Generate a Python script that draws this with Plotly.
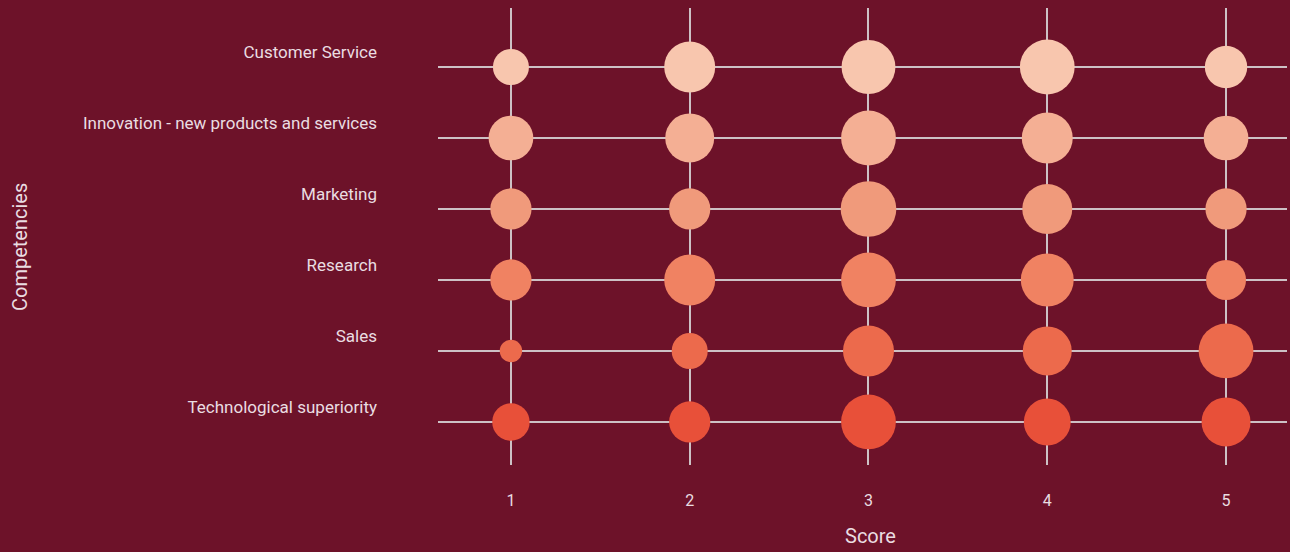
import plotly.graph_objects as go

# Competency ratings: number of responses per score (1-5)
competencies = [
    "Customer Service",
    "Innovation - new products and services",
    "Marketing",
    "Research",
    "Sales",
    "Technological superiority",
]
scores = [1, 2, 3, 4, 5]

customer_service = [13, 26, 29, 30, 18]
innovation = [20, 24, 30, 26, 20]
marketing = [17, 17, 31, 25, 17]
research = [17, 26, 30, 28, 16]
sales = [5, 13, 26, 24, 30]
technological = [14, 17, 30, 22, 24]

responses = [customer_service, innovation, marketing, research, sales, technological]

row_colors = ["#f8c6ae", "#f4af94", "#f09a7b", "#f08262", "#ec6a4c", "#e85039"]

BG = "#6d1229"
GRID = "#cdc1c5"
TEXT = "#eadde1"
FONT = "Roboto"

fig = go.Figure()
for name, counts, color in zip(competencies, responses, row_colors):
    fig.add_trace(go.Scatter(
        x=scores,
        y=[name] * len(scores),
        mode="markers",
        name=name,
        marker=dict(
            size=counts,
            sizemode="area",
            sizeref=0.02,
            color=color,
            opacity=1,
            line=dict(width=0),
        ),
        showlegend=False,
        hovertemplate="%{y}<br>Score %{x}: %{marker.size}<extra></extra>",
    ))

fig.update_layout(
    width=1290,
    height=552,
    paper_bgcolor=BG,
    plot_bgcolor=BG,
    margin=dict(l=438, r=3, t=8, b=87),
    font=dict(family=FONT, color=TEXT, size=16),
    xaxis=dict(
        range=[0.592, 5.341],
        tickvals=scores,
        ticktext=[str(s) for s in scores],
        showgrid=True,
        gridcolor=GRID,
        gridwidth=1.6,
        zeroline=False,
        showline=False,
        ticks="",
        ticklabelstandoff=24,
        tickfont=dict(size=16, color=TEXT, family=FONT),
    ),
    yaxis=dict(
        type="category",
        categoryorder="array",
        categoryarray=competencies,
        range=[5.606, -0.831],
        showgrid=True,
        gridcolor=GRID,
        gridwidth=1.6,
        zeroline=False,
        showline=False,
        ticks="",
        ticklabelstandoff=60,
        ticklabelshift=15,
        tickfont=dict(size=17, color=TEXT, family=FONT),
    ),
    annotations=[
        dict(
            text="Score", x=870, y=536, xref="paper", yref="paper",
            showarrow=False, font=dict(size=20, color=TEXT, family=FONT),
        ),
        dict(
            text="Competencies", x=20, y=247, textangle=-90,
            showarrow=False, font=dict(size=20, color=TEXT, family=FONT),
        ),
    ],
)

# Place the axis titles in pixel terms relative to the full page
W, H = 1290, 552
L, R, T, B = 438, 3, 8, 87
pw, ph = W - L - R, H - T - B
for ann in fig.layout.annotations:
    px, py = ann.x, ann.y
    ann.x = (px - L) / pw
    ann.y = 1 - (py - T) / ph
    ann.xref = "paper"
    ann.yref = "paper"
    ann.xanchor = "center"
    ann.yanchor = "middle"

fig.write_html("out.html")
